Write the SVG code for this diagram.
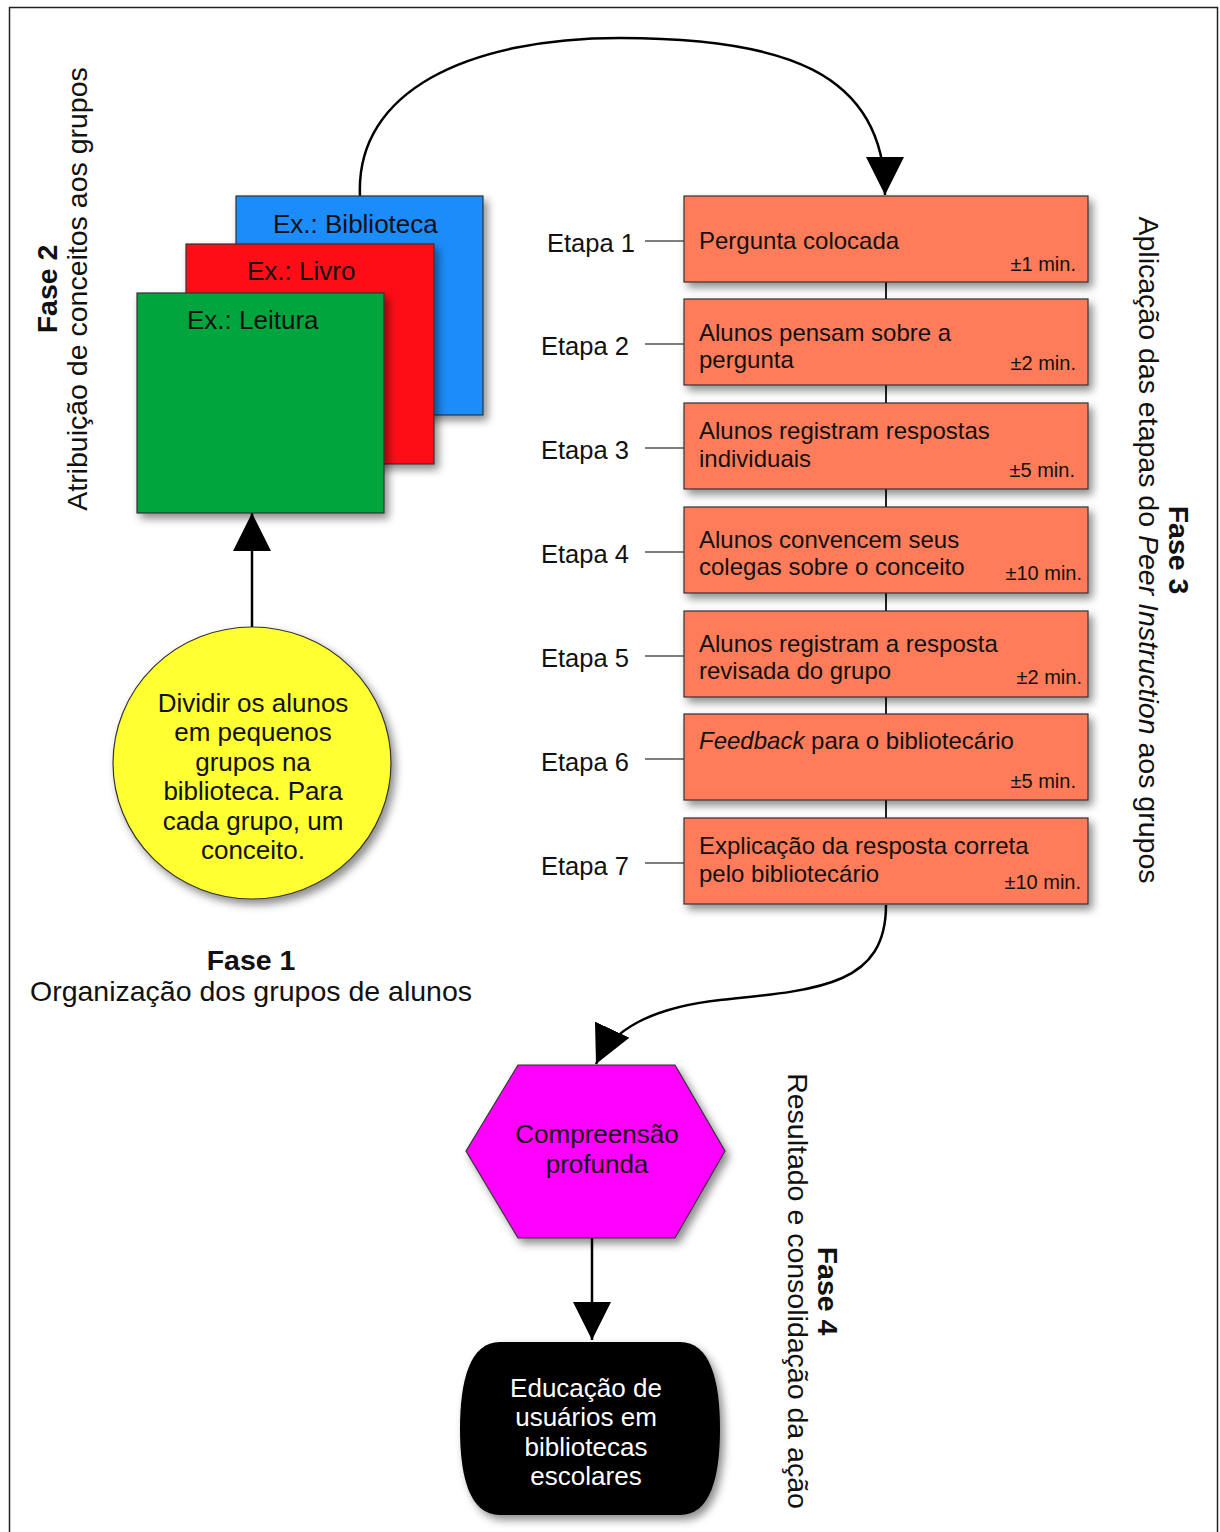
<svg xmlns="http://www.w3.org/2000/svg" width="1220" height="1532" viewBox="0 0 1220 1532">
<defs>
<filter id="sh" x="-10%" y="-10%" width="130%" height="130%">
<feDropShadow dx="4" dy="5" stdDeviation="4" flood-color="#000" flood-opacity="0.45"/>
</filter>
<marker id="ah" viewBox="0 0 10 10" refX="10" refY="5" markerUnits="userSpaceOnUse" markerWidth="38" markerHeight="38" orient="auto">
<path d="M0,0 L10,5 L0,10 Z" fill="#000"/>
</marker>
<style>
text{font-family:"Liberation Sans",Arial,sans-serif;fill:#111}
.sq{stroke:#333;stroke-width:1.2;filter:url(#sh)}
.step{fill:#ff7b5a;stroke:#333;stroke-width:1.2;filter:url(#sh)}
.st{font-size:24px}
.tm{font-size:20px;text-anchor:end}
.et{font-size:25.5px}
.lbl{font-size:26px}
.ph{font-size:28.5px}
.b{font-weight:bold}
.c{text-anchor:middle}
.conn{fill:none;stroke:#000;stroke-width:2.5}
.thin{fill:none;stroke:#222;stroke-width:2}
.tick{stroke:#555;stroke-width:1.5}
</style>
</defs>
<rect x="9.5" y="7.5" width="1208" height="1540" fill="#fff" stroke="#222" stroke-width="1.5"/>

<g id="connectors">
<path class="conn" d="M360,196 C355,90 470,38 620,38 C780,38 885,70 885,195" marker-end="url(#ah)"/>
<path class="conn" d="M252,627 L252,513" marker-end="url(#ah)"/>
<path class="conn" d="M886,905 C886,985 820,990 720,1000 C650,1008 612,1030 596,1064" marker-end="url(#ah)"/>
<path class="conn" d="M592,1238 L592,1340" marker-end="url(#ah)"/>
<path class="thin" d="M886,282 V299 M886,385 V403 M886,489 V507 M886,593 V611 M886,697 V714 M886,800 V818"/>
<path class="tick" d="M645,241 H684 M645,344 H684 M645,448 H684 M645,552 H684 M645,656 H684 M645,759 H684 M645,863 H684"/>
</g>

<g id="sq-blue"><rect class="sq" x="236" y="196" width="247" height="219" fill="#1a8cfa"/><text class="lbl" x="273" y="233">Ex.: Biblioteca</text></g>
<g id="sq-red"><rect class="sq" x="186" y="244" width="248" height="220" fill="#fe0b16"/><text class="lbl" x="247" y="280">Ex.: Livro</text></g>
<g id="sq-green"><rect class="sq" x="137" y="293" width="247" height="220" fill="#00a63d"/><text class="lbl" x="187" y="329">Ex.: Leitura</text></g>

<g id="fase2">
<text class="ph b c" transform="translate(57,289) rotate(-90)">Fase 2</text>
<text class="ph c" transform="translate(87,289) rotate(-90)">Atribuição de conceitos aos grupos</text>
</g>

<g id="circle">
<ellipse cx="252" cy="763" rx="139" ry="136" fill="#ffff33" stroke="#333" stroke-width="1.2" filter="url(#sh)"/>
<text class="lbl c" x="253"><tspan x="253" y="712">Dividir os alunos</tspan><tspan x="253" y="741">em pequenos</tspan><tspan x="253" y="771">grupos na</tspan><tspan x="253" y="800">biblioteca. Para</tspan><tspan x="253" y="830">cada grupo, um</tspan><tspan x="253" y="859">conceito.</tspan></text>
</g>

<g id="fase1">
<text class="ph b c" x="251" y="970">Fase 1</text>
<text class="ph c" x="251" y="1001">Organização dos grupos de alunos</text>
</g>

<g id="step1"><text class="et" x="547" y="252">Etapa 1</text><rect class="step" x="684" y="196" width="404" height="86"/><text class="st" x="699" y="249">Pergunta colocada</text><text class="tm" x="1076" y="271">±1 min.</text></g>
<g id="step2"><text class="et" x="541" y="355">Etapa 2</text><rect class="step" x="684" y="299" width="404" height="86"/><text class="st" x="699" y="341">Alunos pensam sobre a</text><text class="st" x="699" y="368">pergunta</text><text class="tm" x="1076" y="370">±2 min.</text></g>
<g id="step3"><text class="et" x="541" y="459">Etapa 3</text><rect class="step" x="684" y="403" width="404" height="86"/><text class="st" x="699" y="439">Alunos registram respostas</text><text class="st" x="699" y="467">individuais</text><text class="tm" x="1075" y="477">±5 min.</text></g>
<g id="step4"><text class="et" x="541" y="563">Etapa 4</text><rect class="step" x="684" y="507" width="404" height="86"/><text class="st" x="699" y="548">Alunos convencem seus</text><text class="st" x="699" y="575">colegas sobre o conceito</text><text class="tm" x="1082" y="580">±10 min.</text></g>
<g id="step5"><text class="et" x="541" y="667">Etapa 5</text><rect class="step" x="684" y="611" width="404" height="86"/><text class="st" x="699" y="652">Alunos registram a resposta</text><text class="st" x="699" y="679">revisada do grupo</text><text class="tm" x="1082" y="684">±2 min.</text></g>
<g id="step6"><text class="et" x="541" y="771">Etapa 6</text><rect class="step" x="684" y="714" width="404" height="86"/><text class="st" x="699" y="749"><tspan font-style="italic">Feedback</tspan> para o bibliotecário</text><text class="tm" x="1076" y="788">±5 min.</text></g>
<g id="step7"><text class="et" x="541" y="875">Etapa 7</text><rect class="step" x="684" y="818" width="404" height="86"/><text class="st" x="699" y="854">Explicação da resposta correta</text><text class="st" x="699" y="882">pelo bibliotecário</text><text class="tm" x="1081" y="889">±10 min.</text></g>

<g id="fase3">
<text class="ph b c" transform="translate(1169,550) rotate(90)">Fase 3</text>
<text class="ph c" transform="translate(1139,550) rotate(90)">Aplicação das etapas do <tspan font-style="italic">Peer Instruction</tspan> aos grupos</text>
</g>

<g id="hexagon">
<polygon points="466,1151 518,1065 675,1065 725,1151 675,1238 518,1238" fill="#ff00ff" stroke="#333" stroke-width="1.2" filter="url(#sh)"/>
<text class="lbl c" x="597" y="1143">Compreensão</text>
<text class="lbl c" x="597" y="1173">profunda</text>
</g>

<g id="result">
<path d="M500,1342 L680,1342 C710,1342 720,1380 720,1429 C720,1478 710,1515 680,1515 L500,1515 C470,1515 460,1478 460,1429 C460,1380 470,1342 500,1342 Z" fill="#000" filter="url(#sh)"/>
<text class="lbl c" style="fill:#fff"><tspan x="586" y="1397">Educação de</tspan><tspan x="586" y="1426">usuários em</tspan><tspan x="586" y="1456">bibliotecas</tspan><tspan x="586" y="1485">escolares</tspan></text>
</g>

<g id="fase4">
<text class="ph b c" transform="translate(818,1291) rotate(90)">Fase 4</text>
<text class="ph c" transform="translate(788,1291) rotate(90)">Resultado e consolidação da ação</text>
</g>
</svg>
